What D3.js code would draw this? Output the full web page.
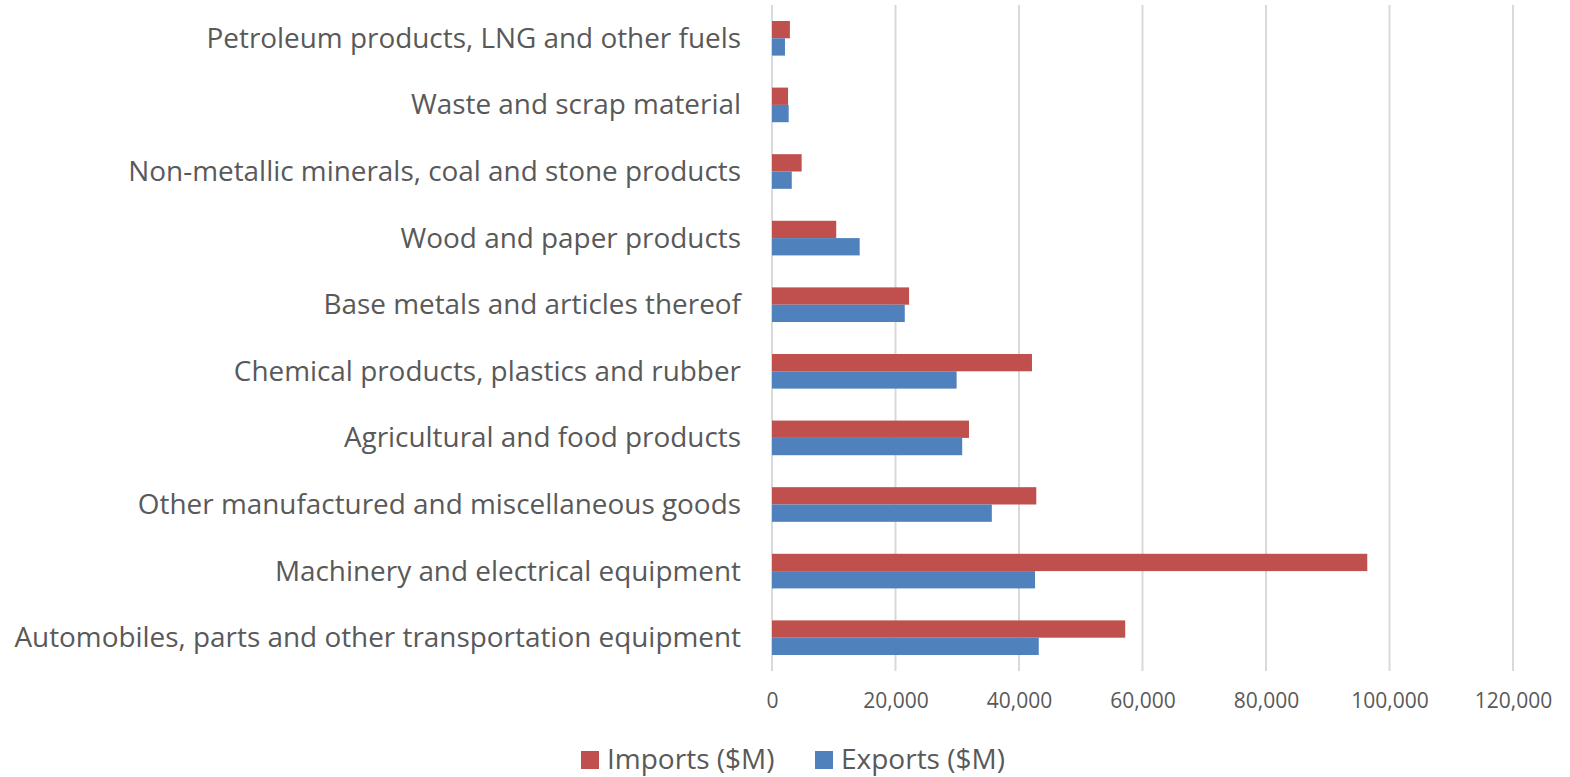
<!DOCTYPE html>
<html><head><meta charset="utf-8">
<script src="https://cdn.jsdelivr.net/npm/d3@7"></script>
<style>
html,body{margin:0;padding:0;background:#fff;}
text{font-family:"Open Sans","Noto Sans",sans-serif;fill:#595959;}
</style></head>
<body>
<svg id="chart" width="1570" height="777"></svg>
<script>
const categories = [
  "Petroleum products, LNG and other fuels",
  "Waste and scrap material",
  "Non-metallic minerals, coal and stone products",
  "Wood and paper products",
  "Base metals and articles thereof",
  "Chemical products, plastics and rubber",
  "Agricultural and food products",
  "Other manufactured and miscellaneous goods",
  "Machinery and electrical equipment",
  "Automobiles, parts and other transportation equipment"
];
const imports = [2900, 2600, 4800, 10400, 22200, 42100, 31900, 42800, 96400, 57200];
const exports = [2100, 2700, 3200, 14200, 21500, 29900, 30800, 35600, 42600, 43200];
const xTicks = [0, 20000, 40000, 60000, 80000, 100000, 120000];
const seriesNames = ["Imports ($M)", "Exports ($M)"];
const colors = ["#C0504D", "#4F81BD"];

const svg = d3.select("#chart");
const m = {left: 772, right: 57, top: 5, bottom: 106};
const W = 1570, H = 777;
const x = d3.scaleLinear().domain([0, 120000]).range([m.left, 1513]);
const y = d3.scaleBand().domain(categories).range([m.top, H - m.bottom]).paddingInner(0.48).paddingOuter(0.24);
const y1 = d3.scaleBand().domain([0,1]).range([0, y.bandwidth()]);

// gridlines
svg.append("g").selectAll("line").data(xTicks).join("line")
  .attr("x1", d => x(d)).attr("x2", d => x(d))
  .attr("y1", m.top).attr("y2", H - m.bottom)
  .attr("stroke", "#D9D9D9").attr("stroke-width", 2);

// bars
const g = svg.append("g");
categories.forEach((c, i) => {
  [imports[i], exports[i]].forEach((v, s) => {
    g.append("rect")
      .attr("x", x(0)).attr("y", y(c) + y1(s))
      .attr("width", x(v) - x(0)).attr("height", y1.bandwidth())
      .attr("fill", colors[s]);
  });
});

// x axis labels
const xAxis = d3.axisBottom(x).tickValues(xTicks).tickFormat(d3.format(",")).tickSize(0).tickPadding(0);
const xa = svg.append("g").attr("transform", `translate(0,${H - m.bottom})`).call(xAxis);
xa.select(".domain").remove();
xa.selectAll("text").attr("dy", "0").attr("y", 37).style("font-size", "21px").style("fill", "#595959")
  .style("font-family", '"Open Sans","Noto Sans",sans-serif');

// y axis labels
const yAxis = d3.axisLeft(y).tickSize(0).tickPadding(31);
const ya = svg.append("g").attr("transform", `translate(${m.left},0)`).call(yAxis);
ya.select(".domain").remove();
ya.selectAll("text").attr("dy", "0.34em").style("font-size", "27.9px").style("fill", "#595959")
  .style("font-family", '"Open Sans","Noto Sans",sans-serif');

// legend
const leg = svg.append("g");
const legX = [581, 815];
seriesNames.forEach((n, i) => {
  leg.append("rect").attr("x", legX[i]).attr("y", 751).attr("width", 18).attr("height", 18).attr("fill", colors[i]);
  leg.append("text").attr("x", legX[i] + 26).attr("y", 769).text(n).style("font-size", "28px");
});
</script>
</body></html>
